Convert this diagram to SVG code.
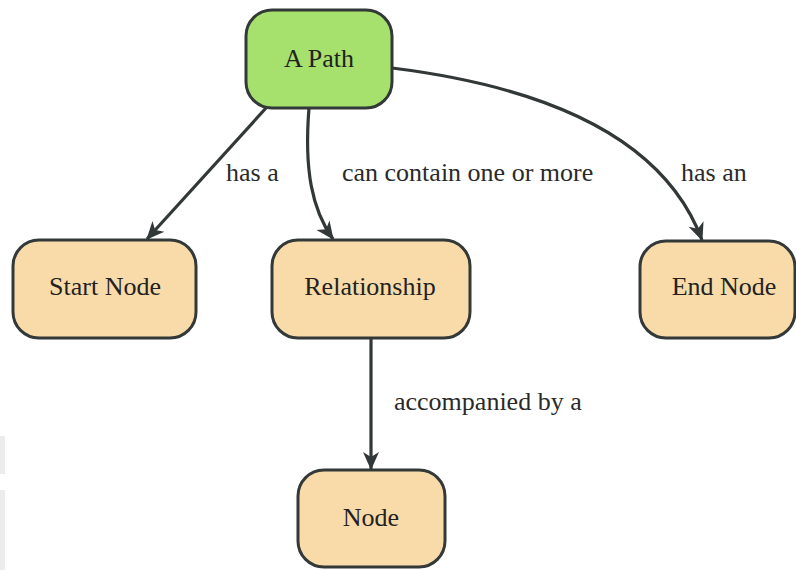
<svg xmlns="http://www.w3.org/2000/svg" width="796" height="570" viewBox="0 0 796 570">
<defs>
<marker id="arr" viewBox="0 0 20 20" refX="18" refY="10" markerWidth="20" markerHeight="20" markerUnits="userSpaceOnUse" orient="auto">
<path d="M1,2 L19,10 L1,18 L6,10 z" fill="#323838"/>
</marker>
<style>
.node rect{stroke:#333838;stroke-width:3}
.root rect{fill:#a6e06d}
.leaf rect{fill:#f9dba9}
text{font-family:'Liberation Serif',Tinos,'DejaVu Serif',serif;font-size:26px}
.node text{fill:#222;text-anchor:middle}
.edge{fill:none;stroke:#323838;stroke-width:3.2;marker-end:url(#arr)}
.lbl{fill:#2a2a2a}
</style>
</defs>
<rect x="0" y="0" width="796" height="570" fill="#ffffff"/>
<rect x="0" y="436" width="5" height="38" fill="#ececec"/>
<rect x="0" y="490" width="5" height="80" fill="#ececec"/>
<g id="connectors">
<path class="edge" d="M266,108 L147,239"/>
<path class="edge" d="M309,108 C304,170 312,210 333,239"/>
<path class="edge" d="M392,68 Q650,100 702,240"/>
<path class="edge" d="M371,338 L371,469"/>
<text class="lbl" x="226" y="181" font-family="Liberation Serif, serif">has a</text>
<text class="lbl" x="342" y="181" font-family="Liberation Serif, serif">can contain one or more</text>
<text class="lbl" x="681" y="181" font-family="Liberation Serif, serif">has an</text>
<text class="lbl" x="394" y="410" font-family="Liberation Serif, serif">accompanied by a</text>
</g>
<g id="n-path" class="node root">
<rect x="246" y="10" width="146" height="98" rx="26"/>
<text x="319" y="67">A Path</text>
</g>
<g id="n-start" class="node leaf">
<rect x="13" y="240" width="183" height="98" rx="26"/>
<text x="105" y="295">Start Node</text>
</g>
<g id="n-rel" class="node leaf">
<rect x="272" y="240" width="198" height="98" rx="26"/>
<text x="370" y="295">Relationship</text>
</g>
<g id="n-end" class="node leaf">
<rect x="640" y="241" width="155" height="97" rx="26"/>
<text x="724" y="295">End Node</text>
</g>
<g id="n-node" class="node leaf">
<rect x="298" y="470" width="147" height="97" rx="26"/>
<text x="371" y="526">Node</text>
</g>
</svg>
